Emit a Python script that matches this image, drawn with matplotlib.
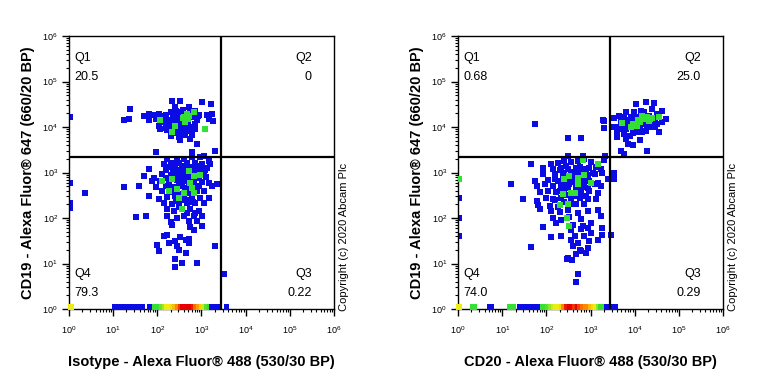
import numpy as np
import matplotlib
matplotlib.use("Agg")
import matplotlib.pyplot as plt
from matplotlib.colors import LinearSegmentedColormap, Normalize
from matplotlib.ticker import LogLocator, LogFormatterSciNotation, NullFormatter

plt.rcParams['font.family'] = ['Liberation Sans', 'DejaVu Sans']

# all event coordinates are log10 values
iso_blue = [
    # Q1
    (2.34, 4.58), (2.52, 4.58), (3.01, 4.54), (3.22, 4.50), (1.38, 4.39), (2.41, 4.43), (2.71, 4.43),
    (2.85, 4.36), (1.81, 4.28), (1.70, 4.25), (1.93, 4.27), (2.04, 4.28), (2.19, 4.27), (2.30, 4.32),
    (2.49, 4.32), (2.60, 4.28), (2.75, 4.32), (2.94, 4.27), (3.12, 4.27), (3.24, 4.28), (1.25, 4.15),
    (1.36, 4.17), (1.81, 4.15), (1.96, 4.17), (2.11, 4.19), (2.22, 4.15), (2.37, 4.19), (2.45, 4.14),
    (2.60, 4.17), (2.79, 4.21), (2.90, 4.15), (3.16, 4.17), (3.27, 4.14), (2.04, 4.03), (2.19, 4.06),
    (2.30, 4.03), (2.41, 4.05), (2.56, 4.06), (2.67, 4.03), (2.86, 4.06), (2.07, 3.95), (2.22, 3.93),
    (2.30, 3.88), (2.49, 3.97), (2.71, 3.91), (2.86, 3.95), (2.30, 3.80), (2.49, 3.77), (2.79, 3.83),
    (2.52, 3.71), (2.75, 3.73), (1.96, 3.46), (2.90, 3.62), (2.79, 3.46), (3.31, 3.47), (2.45, 4.22),
    (2.52, 4.25), (2.38, 4.10), (2.60, 4.10), (2.65, 4.22), (2.15, 4.10), (2.70, 4.12), (2.55, 3.88),
    (2.40, 3.95), (2.62, 3.95), (2.10, 4.25), (2.35, 4.25), (0.03, 4.22), (2.42, 4.35), (2.58, 4.38),
    (2.28, 4.12), (2.50, 4.02), (2.78, 4.00), (2.55, 4.15), (2.92, 4.25), (2.20, 3.98), (2.62, 3.82),
    (2.45, 3.86),
    # Q4
    (2.22, 3.29), (2.45, 3.30), (2.60, 3.29), (2.79, 3.33), (2.97, 3.33), (3.05, 3.36), (3.16, 3.25),
    (2.15, 3.18), (2.30, 3.18), (2.49, 3.20), (2.67, 3.22), (2.86, 3.22), (3.01, 3.18), (3.20, 3.18),
    (1.81, 3.08), (2.19, 3.05), (2.37, 3.07), (2.56, 3.08), (2.75, 3.07), (2.94, 3.08), (3.09, 3.05),
    (1.70, 2.92), (1.93, 2.88), (2.11, 2.96), (2.30, 2.94), (2.49, 2.96), (2.67, 2.98), (2.90, 2.96),
    (3.05, 2.94), (1.89, 2.81), (2.07, 2.81), (2.26, 2.77), (2.45, 2.83), (2.64, 2.81), (2.82, 2.83),
    (3.01, 2.79), (3.16, 2.77), (3.35, 2.74), (1.25, 2.69), (1.59, 2.71), (1.96, 2.69), (2.19, 2.70),
    (2.37, 2.69), (2.52, 2.70), (2.71, 2.70), (2.94, 2.71), (3.24, 2.70), (2.11, 2.59), (2.30, 2.57),
    (2.45, 2.59), (2.64, 2.59), (2.82, 2.55), (3.05, 2.59), (1.81, 2.48), (2.04, 2.42), (2.22, 2.46),
    (2.41, 2.48), (2.60, 2.48), (2.79, 2.46), (2.97, 2.44), (3.16, 2.44), (2.15, 2.33), (2.34, 2.30),
    (2.49, 2.33), (2.67, 2.33), (2.86, 2.32), (3.05, 2.32), (2.22, 2.19), (2.37, 2.15), (2.56, 2.20),
    (2.75, 2.19), (2.94, 2.15), (1.51, 2.02), (1.74, 2.05), (2.22, 2.04), (2.45, 2.00), (2.60, 2.04),
    (2.82, 2.04), (3.01, 2.04), (2.30, 1.91), (2.71, 1.93), (2.90, 1.93), (2.34, 1.85), (2.75, 1.80),
    (2.82, 1.74), (3.01, 1.82), (2.15, 1.60), (2.22, 1.63), (2.52, 1.58), (2.71, 1.54), (2.26, 1.45),
    (2.41, 1.49), (2.64, 1.51), (2.00, 1.41), (2.45, 1.38), (2.71, 1.44), (3.31, 1.39), (2.04, 1.27),
    (2.49, 1.30), (2.64, 1.24), (2.41, 1.10), (2.56, 1.02), (2.90, 1.01), (2.41, 0.92), (0.36, 2.56),
    (2.40, 3.10), (2.55, 2.90), (2.70, 2.85), (2.62, 2.65), (2.78, 2.62), (2.48, 2.75), (2.35, 2.85),
    (2.85, 3.00), (2.58, 3.15), (2.70, 3.12), (2.95, 2.88), (2.52, 2.52), (2.88, 2.70), (2.42, 2.38),
    (2.70, 2.40), (0.03, 2.78), (0.03, 2.34), (0.03, 2.23), (2.25, 3.12), (2.50, 3.05), (2.65, 3.08),
    (2.80, 3.12), (2.95, 3.15), (2.35, 2.98), (2.60, 2.95), (2.78, 2.92), (2.40, 2.62), (2.55, 2.80),
    (2.72, 2.55), (2.90, 2.60), (2.30, 2.68), (2.58, 2.40), (2.80, 2.35), (2.50, 2.25), (2.68, 2.10),
    (2.85, 2.12), (2.35, 3.22), (3.10, 2.90), (3.12, 3.10), (2.20, 2.88),
    # Q3
    (3.52, 0.77),
]
iso_green = [
    (2.60, 4.21), (2.67, 4.17), (2.71, 4.25), (2.82, 4.32), (2.07, 4.15), (2.41, 4.03), (2.34, 3.88),
    (3.09, 3.95), (2.63, 4.14), (2.68, 4.28), (2.58, 4.20), (2.64, 4.23), (2.70, 4.18), (2.62, 4.12),
    (2.11, 2.81), (2.34, 2.86), (2.71, 3.03), (2.82, 2.92), (2.97, 2.94), (2.75, 2.77), (2.79, 2.66),
    (2.45, 2.63), (2.60, 2.55), (2.26, 2.59), (2.49, 2.44), (2.82, 2.55), (2.56, 2.19),
]
iso_strip_x = [0.05, 1.03, 1.09, 1.15, 1.21, 1.26, 1.31, 1.36, 1.42, 1.48, 1.54, 1.60, 1.66, 1.82,
               1.88, 1.93, 1.98, 2.04, 2.10, 2.16, 2.22, 2.28, 2.34, 2.40, 2.46, 2.52, 2.58, 2.64,
               2.70, 2.76, 2.82, 2.88, 2.94, 3.00, 3.06, 3.12, 3.18, 3.24, 3.30, 3.35, 3.57]
iso_strip_level = [2, 0, 0, 0, 0, 0, 0, 0, 0, 0, 0, 0, 0, 0,
                   0, 1, 1, 1, 1.3, 1.6, 2, 2, 2.2, 2.5, 3, 3.6, 4, 4,
                   4, 4, 3.8, 3.2, 2.8, 2.3, 1.8, 1.2, 1, 0, 0, 0, 0]

cd20_blue = [
    # Q1
    (1.75, 4.06), (2.49, 3.75), (2.79, 3.75), (3.28, 4.15), (3.30, 4.13), (3.30, 3.97),
    (2.49, 3.36), (2.82, 3.36), (3.33, 3.36),
    # Q2
    (4.02, 4.50), (4.25, 4.54), (4.43, 4.52), (4.62, 4.36), (3.80, 4.32), (3.99, 4.32), (4.21, 4.32),
    (4.40, 4.39), (4.51, 4.28), (3.65, 4.25), (3.76, 4.21), (3.91, 4.22), (4.10, 4.21), (4.32, 4.25),
    (4.55, 4.21), (4.70, 4.17), (3.54, 4.19), (3.69, 4.10), (3.84, 4.08), (3.99, 4.10), (4.17, 4.06),
    (4.36, 4.10), (4.51, 4.06), (4.62, 4.12), (3.50, 4.00), (3.65, 3.99), (3.80, 3.95), (3.99, 3.93),
    (4.13, 3.97), (4.32, 3.99), (4.47, 4.00), (3.61, 3.88), (3.76, 3.84), (3.95, 3.86), (4.17, 3.88),
    (4.55, 3.88), (3.61, 3.77), (3.80, 3.73), (4.13, 3.71), (3.84, 3.62), (3.95, 3.61), (3.69, 3.47),
    (3.76, 3.41), (4.28, 3.47), (4.05, 4.15), (4.20, 4.10), (3.88, 4.15), (4.28, 4.02), (4.10, 3.90),
    (3.85, 4.02), (4.00, 4.22), (4.15, 4.35), (4.40, 4.05), (4.45, 4.20), (3.70, 3.95), (4.25, 3.92),
    (3.90, 3.80),
    # Q4
    (2.11, 3.18), (2.26, 3.22), (2.41, 3.25), (2.56, 3.23), (2.71, 3.25), (2.86, 3.29), (3.01, 3.23),
    (3.31, 3.27), (1.65, 3.18), (1.93, 3.11), (2.15, 3.08), (2.34, 3.11), (2.49, 3.07), (2.67, 3.11),
    (2.82, 3.08), (2.97, 3.11), (3.12, 3.13), (3.24, 3.07), (1.93, 2.96), (2.19, 2.96), (2.37, 2.92),
    (2.56, 2.94), (2.75, 2.98), (2.94, 2.94), (3.09, 2.96), (3.27, 2.98), (1.74, 2.81), (2.04, 2.83),
    (2.26, 2.81), (2.45, 2.85), (2.64, 2.79), (2.79, 2.83), (2.97, 2.81), (3.16, 2.77), (3.39, 2.86),
    (3.54, 2.86), (3.53, 2.98), (1.21, 2.74), (1.78, 2.70), (1.96, 2.74), (2.15, 2.71), (2.34, 2.70),
    (2.52, 2.74), (2.71, 2.71), (2.86, 2.69), (3.09, 2.74), (3.24, 2.70), (1.85, 2.57), (2.04, 2.59),
    (2.22, 2.57), (2.41, 2.61), (2.60, 2.55), (2.79, 2.59), (2.97, 2.59), (3.16, 2.55), (1.48, 2.41),
    (1.78, 2.37), (2.00, 2.44), (2.15, 2.42), (2.34, 2.44), (2.56, 2.42), (2.75, 2.44), (2.94, 2.41),
    (3.12, 2.42), (1.81, 2.28), (2.08, 2.26), (2.26, 2.25), (2.49, 2.28), (2.67, 2.30), (2.86, 2.30),
    (1.85, 2.19), (2.11, 2.15), (2.30, 2.13), (2.49, 2.17), (2.71, 2.11), (2.94, 2.15), (3.16, 2.17),
    (2.15, 2.00), (2.34, 1.96), (2.52, 2.02), (2.79, 1.98), (3.24, 2.04), (2.22, 1.89), (2.60, 1.85),
    (2.82, 1.83), (3.01, 1.89), (1.93, 1.80), (2.56, 1.74), (2.79, 1.76), (2.94, 1.78), (3.27, 1.77),
    (2.11, 1.58), (2.34, 1.61), (2.64, 1.61), (2.86, 1.60), (3.01, 1.67), (3.46, 1.63), (2.56, 1.52),
    (2.71, 1.46), (2.97, 1.49), (3.16, 1.52), (1.65, 1.36), (2.60, 1.38), (2.75, 1.30), (2.94, 1.34),
    (2.67, 1.21), (2.79, 1.27), (2.90, 1.23), (2.49, 1.12), (2.58, 1.08), (2.46, 1.10), (2.71, 0.77),
    (2.67, 0.59), (1.19, 2.74), (3.26, 1.63), (2.40, 3.00), (2.60, 2.88), (2.50, 2.65), (2.68, 2.62),
    (2.38, 2.75), (2.85, 2.75), (2.62, 2.48), (0.03, 2.45), (0.03, 2.00), (0.03, 1.60), (2.30, 3.05),
    (2.45, 3.15), (2.62, 3.02), (2.75, 3.12), (2.90, 3.05), (2.20, 2.85), (2.50, 2.80), (2.68, 2.70),
    (2.88, 2.85), (2.30, 2.60), (2.45, 2.50), (2.75, 2.52), (2.90, 2.48), (2.60, 2.30), (2.40, 2.35),
    (2.20, 2.40), (2.95, 2.65), (3.05, 3.00),
]
cd20_green = [
    (4.17, 4.25), (4.25, 4.17), (4.13, 4.10), (4.06, 4.03), (3.95, 4.06), (3.91, 3.99), (4.32, 4.14),
    (4.40, 4.19), (3.72, 4.08), (4.55, 4.22), (4.20, 4.20), (4.28, 4.23), (4.35, 4.18), (4.08, 4.15),
    (2.82, 3.27), (3.16, 3.18), (2.52, 2.92), (2.71, 2.88), (2.86, 2.94), (2.41, 2.85), (2.71, 2.74),
    (3.01, 2.76), (2.37, 2.52), (2.56, 2.55), (2.64, 2.54), (2.30, 2.28), (2.50, 2.30), (2.47, 2.00),
    (2.52, 1.83), (0.03, 2.85),
]
cd20_strip_x = [0.02, 0.33, 0.36, 0.72, 0.75, 1.17, 1.21, 1.25, 1.39, 1.44, 1.56, 1.62, 1.68, 1.74,
                1.80, 1.86, 1.92, 1.98, 2.04, 2.10, 2.16, 2.22, 2.28, 2.34, 2.40, 2.46, 2.52, 2.58,
                2.64, 2.70, 2.76, 2.82, 2.88, 2.94, 3.00, 3.06, 3.12, 3.18, 3.24, 3.36, 3.42, 3.52, 3.56]
cd20_strip_level = [2, 1, 1, 0, 0, 1, 1, 1, 0, 0, 0, 0, 0, 0,
                    0, 0, 1, 1, 1.2, 1.5, 1.8, 2, 2, 2.2, 3, 3.8, 4, 4,
                    3.6, 4, 3.5, 3.2, 3, 3, 2.5, 2.2, 2, 1.5, 1, 0, 0, 0, 0]

iso_quads = ['20.5', '0', '0.22', '79.3']
cd20_quads = ['0.68', '25.0', '0.29', '74.0']
x_gate = 2800
y_gate = 2230
strip_y = 1.1

y_title = 'CD19 - Alexa Fluor® 647 (660/20 BP)'
x_titles = ['Isotype - Alexa Fluor® 488 (530/30 BP)', 'CD20 - Alexa Fluor® 488 (530/30 BP)']
copyright_txt = 'Copyright (c) 2020 Abcam Plc'

blue = '#0b0be3'
green = '#33e033'
dens_cmap = LinearSegmentedColormap.from_list(
    'dens', ['#0b0be3', '#33e033', '#eeee10', '#ff8a00', '#e80000'])


def draw_panel(ax, blue_pts, green_pts, strip_x, strip_level, quads, xlabel):
    b = 10 ** np.array(blue_pts)
    g = 10 ** np.array(green_pts)
    ax.scatter(b[:, 0], b[:, 1], marker='s', s=13, c=blue, linewidths=0, zorder=2)
    ax.scatter(g[:, 0], g[:, 1], marker='s', s=13, c=green, linewidths=0, zorder=3)
    sx = 10 ** np.array(strip_x)
    ax.scatter(sx, np.full(len(sx), strip_y), marker='s', s=15, c=strip_level,
               cmap=dens_cmap, norm=Normalize(0, 4), linewidths=0, zorder=3, clip_on=False)

    ax.axvline(x_gate, color='black', lw=1.6, zorder=4)
    ax.axhline(y_gate, color='black', lw=1.6, zorder=4)

    ax.set_xscale('log')
    ax.set_yscale('log')
    ax.set_xlim(1, 1e6)
    ax.set_ylim(1, 1e6)
    for axis in (ax.xaxis, ax.yaxis):
        axis.set_major_locator(LogLocator(base=10, numticks=10))
        axis.set_minor_locator(LogLocator(base=10, subs=np.arange(2, 10), numticks=10))
        axis.set_major_formatter(LogFormatterSciNotation())
        axis.set_minor_formatter(NullFormatter())
    ax.tick_params(which='major', length=5, width=1, labelsize=6.5, direction='out')
    ax.tick_params(which='minor', length=2.5, width=0.8, direction='out')
    ax.tick_params(axis='x', which='major', pad=6)
    ax.tick_params(axis='y', which='major', pad=3)
    for sp in ax.spines.values():
        sp.set_linewidth(1)

    kw = dict(transform=ax.transAxes, fontsize=9, va='baseline')
    ax.text(0.02, 0.908, 'Q1', ha='left', **kw)
    ax.text(0.02, 0.839, quads[0], ha='left', **kw)
    ax.text(0.916, 0.908, 'Q2', ha='right', **kw)
    ax.text(0.916, 0.839, quads[1], ha='right', **kw)
    ax.text(0.916, 0.118, 'Q3', ha='right', **kw)
    ax.text(0.916, 0.049, quads[2], ha='right', **kw)
    ax.text(0.02, 0.118, 'Q4', ha='left', **kw)
    ax.text(0.02, 0.049, quads[3], ha='left', **kw)

    ax.set_xlabel(xlabel, fontsize=10.5, fontweight='bold', labelpad=14)
    ax.set_ylabel(y_title, fontsize=10.5, fontweight='bold', labelpad=5)
    ax.text(1.038, 0.265, copyright_txt, transform=ax.transAxes, rotation=90,
            fontsize=8, ha='center', va='center')


fig = plt.figure(figsize=(7.68, 3.84), dpi=100)
ax1 = fig.add_axes([0.0898, 0.1953, 0.3451, 0.7109])
ax2 = fig.add_axes([0.5964, 0.1953, 0.3451, 0.7109])
draw_panel(ax1, iso_blue, iso_green, iso_strip_x, iso_strip_level, iso_quads, x_titles[0])
draw_panel(ax2, cd20_blue, cd20_green, cd20_strip_x, cd20_strip_level, cd20_quads, x_titles[1])

fig.savefig('out.png', dpi=100)
